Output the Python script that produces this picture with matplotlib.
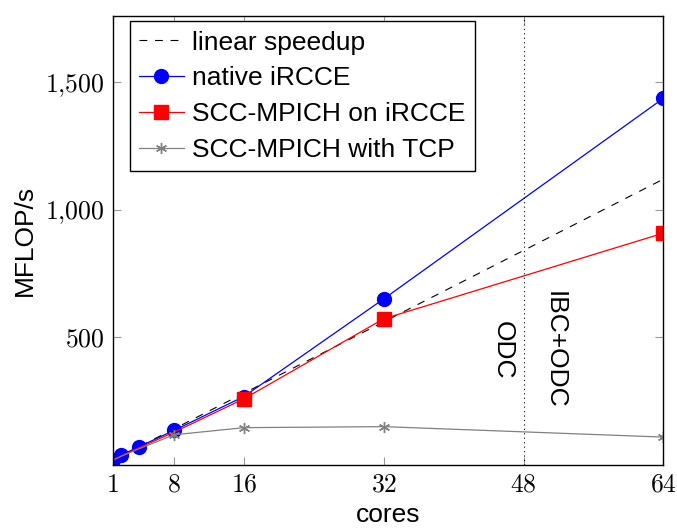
import numpy as np
import matplotlib.pyplot as plt
from matplotlib.ticker import FuncFormatter

plt.rcParams['font.family'] = ['Liberation Sans', 'DejaVu Sans']
plt.rcParams['mathtext.fontset'] = 'cm'

# data
cores = [1, 2, 4, 8, 16, 32, 64]
linear = [17.5 * c for c in cores]
native = [19, 38, 70, 134, 267, 650, 1437]
mpich_ircce = [18, 35, 66, 127, 258, 572, 908]
mpich_tcp = [17, 33, 62, 117, 145, 149, 108]

xticks = [1, 8, 16, 32, 48, 64]
yticks = [500, 1000, 1500]

fig = plt.figure(figsize=(6.77, 5.31), dpi=100)
ax = fig.add_axes([0.1665, 0.125, 0.8135, 0.845])

fs = 19
ax.plot(cores, linear, color='black', lw=0.8, ls=(0, (7, 7)), label='linear speedup')
ax.plot(cores, native, color='blue', lw=0.9, marker='o', ms=10, label='native iRCCE')
ax.plot(cores, mpich_ircce, color='red', lw=0.9, marker='s', ms=10,
        markevery=[4, 5, 6], label='SCC-MPICH on iRCCE')
ax.plot(cores, mpich_tcp, color='gray', lw=0.9, marker=(6, 2, 0), ms=8,
        markevery=[3, 4, 5, 6], label='SCC-MPICH with TCP')

ax.axvline(48, color='black', lw=0.8, ls=(0, (1, 3)))
ax.text(45.6, 450, 'ODC', rotation=-90, ha='center', va='center', fontsize=fs)
ax.text(51.5, 450, 'IBC+ODC', rotation=-90, ha='center', va='center', fontsize=fs)

ax.set_xlim(1, 64)
ax.set_ylim(0, 1760)
ax.set_xticks(xticks)
ax.set_yticks(yticks)
ax.xaxis.set_major_formatter(FuncFormatter(lambda v, p: '$%d$' % v))
ax.yaxis.set_major_formatter(FuncFormatter(lambda v, p: '$' + f'{int(v):,}'.replace(',', '{,}') + '$'))
ax.tick_params(direction='in', length=6, width=0.8, color='#999999',
               top=True, right=True, labelsize=18.5, pad=6)
for s in ax.spines.values():
    s.set_linewidth(1.0)

ax.set_xlabel('cores', fontsize=fs, labelpad=4)
ax.set_ylabel('MFLOP/s', fontsize=fs, labelpad=6)

leg = ax.legend(loc='upper left', bbox_to_anchor=(0.031, 0.988), fontsize=fs,
                fancybox=False, edgecolor='black', framealpha=1,
                handlelength=1.7, handletextpad=0.3, labelspacing=0.45,
                borderpad=0.35, borderaxespad=0)
leg.get_frame().set_linewidth(1.0)

plt.savefig('out.png', dpi=100)
